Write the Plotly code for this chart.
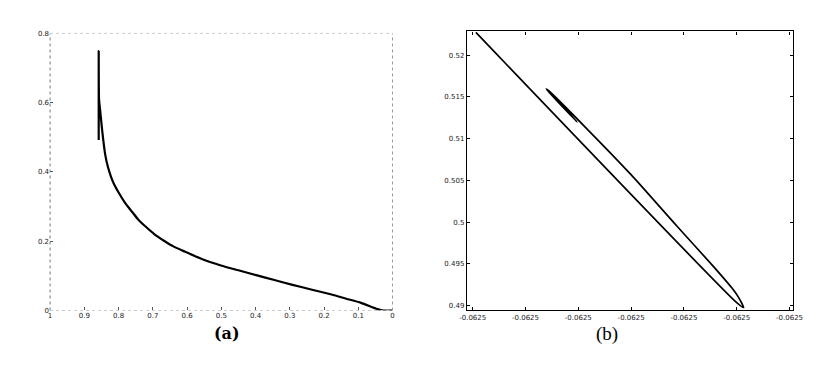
import plotly.graph_objects as go

# Panel (a) data
a_x = [0.0, 0.026, 0.044, 0.092, 0.135, 0.178, 0.235, 0.292, 0.345, 0.398, 0.450, 0.501,
       0.555, 0.607, 0.640, 0.665, 0.695, 0.722, 0.742, 0.759, 0.780, 0.799, 0.812,
       0.822, 0.831, 0.839, 0.845, 0.850, 0.854, 0.857, 0.858, 0.858]
a_y = [0.0, 0.0, 0.004, 0.022, 0.034, 0.046, 0.060, 0.074, 0.088, 0.102, 0.116, 0.130,
       0.148, 0.170, 0.185, 0.200, 0.220, 0.243, 0.262, 0.283, 0.309, 0.339, 0.362,
       0.386, 0.414, 0.450, 0.495, 0.540, 0.580, 0.610, 0.749, 0.492]
a_xticks = [1, 0.9, 0.8, 0.7, 0.6, 0.5, 0.4, 0.3, 0.2, 0.1, 0]
a_xticktext = ["1", "0.9", "0.8", "0.7", "0.6", "0.5", "0.4", "0.3", "0.2", "0.1", "0"]
a_yticks = [0, 0.2, 0.4, 0.6, 0.8]
a_yticktext = ["0", "0.2", "0.4", "0.6", "0.8"]

# Panel (b) data
b_x = [-0.0625294, -0.0624800, -0.0624787, -0.0624796, -0.0624809, -0.0624846, -0.0624913,
       -0.0625001, -0.0625081, -0.0625155, -0.0625161, -0.0625102, -0.0625146]
b_y = [0.52271, 0.49035, 0.489766, 0.490935, 0.492103, 0.494825, 0.499498,
       0.505736, 0.510993, 0.515666, 0.515935, 0.511963, 0.515117]
b_xticks = [-0.06253, -0.06252, -0.06251, -0.06250, -0.06249, -0.06248, -0.06247]
b_xticktext = ["-0.0625"] * 7
b_yticks = [0.49, 0.495, 0.5, 0.505, 0.51, 0.515, 0.52]
b_yticktext = ["0.49", "0.495", "0.5", "0.505", "0.51", "0.515", "0.52"]

fig = go.Figure()
fig.add_trace(go.Scatter(x=a_x, y=a_y, mode="lines",
                         line=dict(color="black", width=2.2, shape="spline", smoothing=0.7),
                         xaxis="x", yaxis="y", showlegend=False))
fig.add_trace(go.Scatter(x=b_x, y=b_y, mode="lines",
                         line=dict(color="black", width=1.7, shape="spline", smoothing=0.6),
                         xaxis="x2", yaxis="y2", showlegend=False))

tickfont = dict(family="DejaVu Sans", size=7, color="#222")
fig.update_layout(
    width=835, height=384, margin=dict(l=0, r=0, t=0, b=0),
    paper_bgcolor="white", plot_bgcolor="white",
    xaxis=dict(domain=[43/835, 393/835], range=[1, 0], anchor="y",
               tickvals=a_xticks, ticktext=a_xticktext, ticks="inside", ticklen=3,
               tickcolor="#555", showgrid=False, zeroline=False, showline=False,
               tickfont=tickfont),
    yaxis=dict(domain=[1-313/384, 1-30/384], range=[0, 0.8], anchor="x",
               tickvals=a_yticks, ticktext=a_yticktext, ticks="inside", ticklen=3,
               tickcolor="#555", showgrid=False, zeroline=False, showline=False,
               tickfont=tickfont),
    xaxis2=dict(domain=[469/835, 802/835], range=[-0.0625311, -0.0624694], anchor="y2",
                tickvals=b_xticks, ticktext=b_xticktext, ticks="inside", ticklen=3,
                tickcolor="black", showgrid=False, zeroline=False, showline=True,
                linecolor="black", linewidth=1.2, mirror="ticks", tickfont=tickfont),
    yaxis2=dict(domain=[1-313/384, 1-28/384], range=[0.48942, 0.52283], anchor="x2",
                tickvals=b_yticks, ticktext=b_yticktext, ticks="inside", ticklen=3,
                tickcolor="black", showgrid=False, zeroline=False, showline=True,
                linecolor="black", linewidth=1.2, mirror="ticks", tickfont=tickfont),
    shapes=[
        dict(type="line", xref="x domain", yref="y domain", x0=0, x1=0, y0=0, y1=1,
             line=dict(color="#777", width=1, dash="dot")),
        dict(type="line", xref="x domain", yref="y domain", x0=1, x1=1, y0=0, y1=1,
             line=dict(color="#999", width=1, dash="dot")),
        dict(type="line", xref="x domain", yref="y domain", x0=0, x1=1, y0=1, y1=1,
             line=dict(color="#ccc", width=1, dash="dot")),
        dict(type="line", xref="x domain", yref="y domain", x0=0, x1=1, y0=0, y1=0,
             line=dict(color="#ccc", width=1, dash="dot")),
    ],
    annotations=[
        dict(text="<b>(a)</b>", x=208/835, y=1-348/384, xref="paper", yref="paper",
             showarrow=False, font=dict(family="DejaVu Serif", size=16, color="black")),
        dict(text="(b)", x=625/835, y=1-350/384, xref="paper", yref="paper",
             showarrow=False, font=dict(family="Liberation Serif", size=19, color="black")),
    ],
)

fig.write_html("out.html")
